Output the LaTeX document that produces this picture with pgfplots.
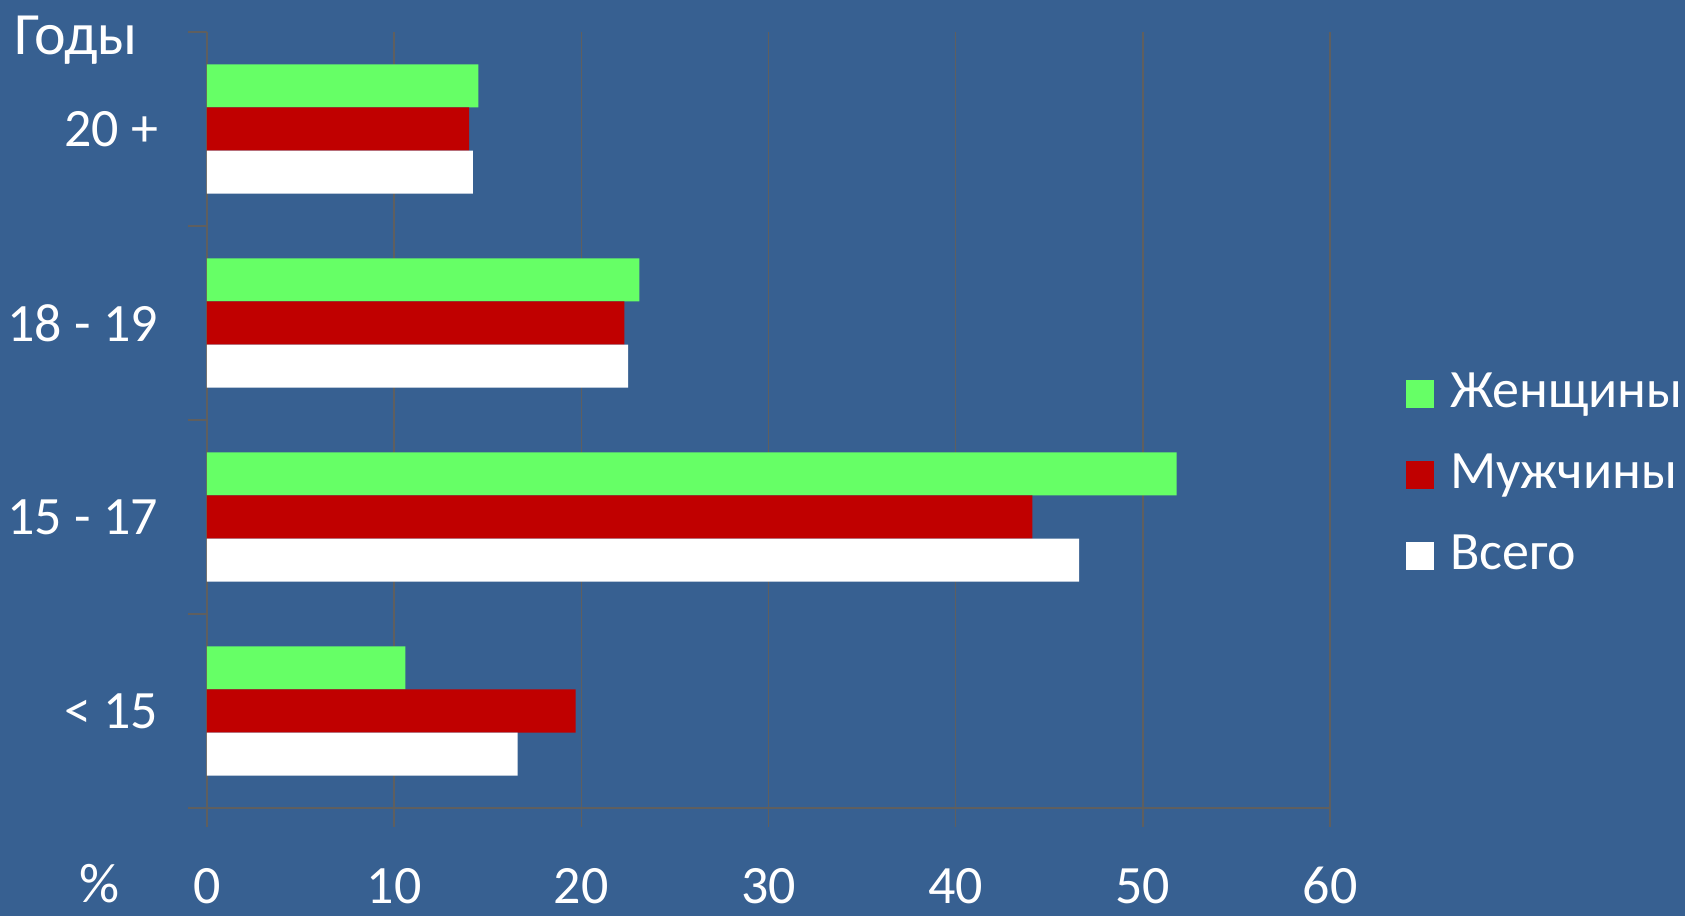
\documentclass[border=0pt]{standalone}
\usepackage{pgfplots}
\pgfplotsset{compat=1.18}
\usepackage{fontspec}
\setmainfont{Carlito}
\definecolor{bg}{RGB}{55,96,145}
\definecolor{fem}{RGB}{102,255,102}
\definecolor{mal}{RGB}{192,0,0}
\definecolor{gridc}{RGB}{95,95,95}
\begin{document}
\fontsize{28}{34}\selectfont
\begin{tikzpicture}[x=1pt,y=1pt]
\fill[bg] (-103.5,-54) rectangle (739,404);
\begin{axis}[
  at={(0,0)}, anchor=south west,
  scale only axis, width=561.5pt, height=388pt,
  xbar, bar width=0.222,
  xmin=0, xmax=60, ymin=-0.5, ymax=3.5,
  xtick={0,10,...,60},
  ytick={-0.5,0.5,1.5,2.5,3.5}, yticklabels={},
  extra y ticks={0,1,2,3},
  extra y tick labels={< 15, 15 - 17, 18 - 19, 20 +},
  extra y tick style={major tick length=0pt, ymajorgrids=false, yticklabel style={xshift=-15pt}},
  axis lines*=left,
  axis line style={gridc, line width=0.7pt},
  tick style={gridc, line width=0.7pt},
  major tick length=9.5pt,
  tick align=outside,
  xmajorgrids,
  grid style={gridc, line width=0.7pt},
  /pgf/number format/assume math mode=true,
  ticklabel style={text=white, font=\fontsize{27}{32}\selectfont},
  xticklabel style={anchor=base, yshift=-38pt},
  legend style={at={(1.062,0.429)}, anchor=west, draw=none, fill=none,
    text=white, font=\fontsize{27}{32}\selectfont, row sep=13pt,
    nodes={inner sep=3pt}},
  legend cell align=left,
  legend image code/.code={\fill[#1] (0pt,-7pt) rectangle (14pt,7pt); \path (19pt,0pt);},
  clip=false,
]
\addplot[fill=fem, draw=none, bar shift=0.222] coordinates {(10.6,0) (51.8,1) (23.1,2) (14.5,3)};
\addplot[fill=mal, draw=none, bar shift=0] coordinates {(19.7,0) (44.1,1) (22.3,2) (14.0,3)};
\addplot[fill=white, draw=none, bar shift=-0.222] coordinates {(16.6,0) (46.6,1) (22.5,2) (14.2,3)};
\legend{Женщины, Мужчины, Всего}
\node[text=white, anchor=base, font=\fontsize{28}{34}\selectfont] at (axis description cs:-0.096,0) [yshift=-47pt] {\%};
\node[text=white, anchor=west, font=\fontsize{30}{36}\selectfont] at (axis description cs:-0.188,0.99) {Годы};
\end{axis}
\pgfresetboundingbox
\path[use as bounding box] (-103.5,-54) rectangle (739,404);
\end{tikzpicture}
\end{document}
